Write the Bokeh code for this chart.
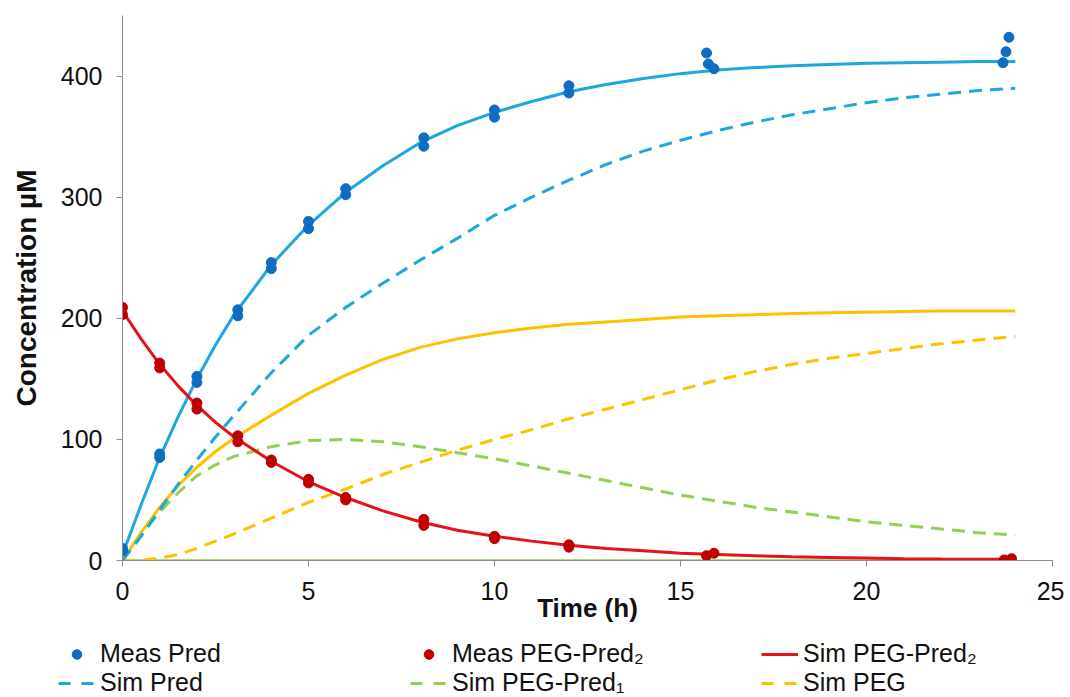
from bokeh.plotting import figure
from bokeh.models import Range1d, FixedTicker, Legend, LegendItem
from bokeh.embed import file_html
from bokeh.resources import INLINE

# ---- measured data ----
meas_pred_t = [0, 0, 1, 1, 2, 2, 3.1, 3.1, 4, 4, 5, 5, 6, 6, 8.1, 8.1, 10, 10, 12, 12,
               15.7, 15.75, 15.9, 23.83, 23.75, 23.67]
meas_pred_y = [8, 10, 85, 88, 147, 152, 202, 207, 241, 246, 274, 280, 302, 307, 342, 349,
               366, 372, 386, 392, 419, 410, 406, 432, 420, 411]

meas_peg2_t = [0, 0, 1, 1, 2, 2, 3.1, 3.1, 4, 4, 5, 5, 6, 6, 8.1, 8.1, 10, 10, 12, 12,
               15.7, 15.9, 23.7, 23.9]
meas_peg2_y = [209, 203, 159, 163, 125, 130, 98, 103, 81, 83, 64, 67, 50, 52, 29, 34,
               18, 20, 11, 13, 4, 6, 0.5, 1.5]

# ---- simulated curves ----
sim_t = [0, 0.5, 1, 1.5, 2, 2.5, 3, 4, 5, 6, 7, 8, 9, 10, 11, 12, 13, 14, 15, 16,
         17, 18, 19, 20, 21, 22, 23, 24]
fit_pred = [5, 46, 85, 119, 150, 178, 203, 244, 277, 304, 326, 345, 359, 370, 379, 387,
            393, 398, 402, 405, 407, 408.5, 409.5, 410.5, 411, 411.5, 412, 412]
sim_pred = [0, 20, 42, 63, 83, 102, 120, 155, 186, 209, 229, 248, 266, 285, 300, 314,
            327, 338, 347, 355, 362, 368, 373, 378, 382, 385, 388, 390]
sim_peg_pred2 = [206, 183, 162, 144, 128, 114, 102, 82, 65, 52, 41, 32, 25, 20, 16, 12.5,
                 10, 8, 6, 5, 4, 3, 2.5, 2, 1.5, 1.2, 1, 1]
fit_peg = [0, 23, 44, 62, 77, 90, 101, 120, 138, 153, 166, 176, 183, 188, 192, 195,
           197, 199, 201, 202, 203, 204, 204.5, 205, 205.5, 206, 206, 206]
sim_peg_pred1 = [0, 21, 40, 56, 70, 79, 86, 94, 99, 100, 98, 94, 89, 84, 78, 72,
                 66, 60, 54, 49, 44, 40, 36, 32, 29, 26, 23, 21]
sim_peg = [0, 0.3, 2, 5, 10, 16, 22, 35, 48, 59, 71, 81, 91, 100, 108, 117,
           125, 133, 141, 149, 156, 162, 167, 171, 175, 179, 182, 185]
zero_t = [0, 24]
zero_y = [0, 0]

x_ticks = [0, 5, 10, 15, 20, 25]
y_ticks = [0, 100, 200, 300, 400]

BLUE_LINE = "#1EA6DF"
BLUE_PT = "#0E6DC0"
RED_LINE = "#E8101A"
RED_PT = "#C00000"
YELLOW = "#FFC000"
GREEN = "#92D050"
FONT = "Liberation Sans"
W = 1064

p = figure(width=W, height=636, output_backend="svg", toolbar_location=None,
           x_range=Range1d(0, 25), y_range=Range1d(0, 450),
           min_border_left=122, min_border_right=12, min_border_top=15, min_border_bottom=76)
p.outline_line_color = None
p.xgrid.grid_line_color = None
p.ygrid.grid_line_color = None

for ax in (p.xaxis[0], p.yaxis[0]):
    ax.axis_line_color = "#8C8C8C"
    ax.major_tick_line_color = "#8C8C8C"
    ax.major_tick_out = 6
    ax.major_tick_in = 0
    ax.minor_tick_line_color = None
    ax.major_label_text_font = FONT
    ax.major_label_text_font_size = "25px"
    ax.major_label_text_color = "#111111"
    ax.axis_label_text_font = FONT
    ax.axis_label_text_font_size = "26px"
    ax.axis_label_text_font_style = "bold"
    ax.axis_label_text_color = "#111111"

p.yaxis.axis_label_text_font_size = "28px"
p.xaxis.ticker = FixedTicker(ticks=x_ticks)
p.yaxis.ticker = FixedTicker(ticks=y_ticks)
p.xaxis.axis_label = "Time (h)"
p.yaxis.axis_label = "Concentration µM"
p.xaxis.major_label_standoff = 15
p.xaxis.axis_label_standoff = -10
p.yaxis.major_label_standoff = 14
p.yaxis.axis_label_standoff = 16

dash = "13 8"
p.line(zero_t, zero_y, line_color=GREEN, line_width=2.5)
p.line(sim_t, fit_peg, line_color=YELLOW, line_width=3)
p.line(sim_t, sim_peg, line_color=YELLOW, line_width=3, line_dash=dash)
p.line(sim_t, sim_peg_pred1, line_color=GREEN, line_width=3, line_dash=dash)
p.line(sim_t, sim_pred, line_color=BLUE_LINE, line_width=3, line_dash=dash)
p.line(sim_t, fit_pred, line_color=BLUE_LINE, line_width=3)
p.line(sim_t, sim_peg_pred2, line_color=RED_LINE, line_width=3)
p.scatter(meas_pred_t, meas_pred_y, size=10, fill_color=BLUE_PT, line_color=BLUE_PT)
p.scatter(meas_peg2_t, meas_peg2_y, size=10, fill_color=RED_PT, line_color=RED_PT)

# ---- legend strip below the chart (its data ranges are out of view; only the legend shows) ----
LH = 60
q = figure(width=W, height=LH, output_backend="svg", toolbar_location=None,
           x_range=Range1d(1000, 1001), y_range=Range1d(1000, 1001),
           x_axis_location=None, y_axis_location=None, min_border=0)
q.outline_line_color = None
q.xgrid.grid_line_color = None
q.ygrid.grid_line_color = None

ldash = "12 11"
g_mp = q.scatter(meas_pred_t, meas_pred_y, size=8, fill_color=BLUE_PT, line_color=BLUE_PT)
g_mpp2 = q.scatter(meas_peg2_t, meas_peg2_y, size=8, fill_color=RED_PT, line_color=RED_PT)
g_pp2 = q.line(sim_t, sim_peg_pred2, line_color=RED_LINE, line_width=3)
g_sp = q.line(sim_t, sim_pred, line_color=BLUE_LINE, line_width=3, line_dash=ldash)
g_pp1 = q.line(sim_t, sim_peg_pred1, line_color=GREEN, line_width=3, line_dash=ldash)
g_peg = q.line(sim_t, sim_peg, line_color=YELLOW, line_width=3, line_dash=ldash)

entries = [
    ("Meas Pred", g_mp, 58, 28),
    ("Sim Pred", g_sp, 58, -1),
    ("Meas PEG-Pred₂", g_mpp2, 410, 28),
    ("Sim PEG-Pred₁", g_pp1, 410, -1),
    ("Sim PEG-Pred₂", g_pp2, 761, 28),
    ("Sim PEG", g_peg, 761, -1),
]
for label, rend, lx, ly in entries:
    lg = Legend(items=[LegendItem(label=label, renderers=[rend])], location=(lx, ly),
                padding=0, margin=0, spacing=0, border_line_alpha=0,
                background_fill_alpha=0, glyph_width=37, glyph_height=24,
                label_standoff=5, label_text_font=FONT, label_text_font_size="25px",
                label_text_color="#111111", label_height=24)
    q.add_layout(lg, "center")

open("out.html", "w").write(file_html([p, q], INLINE))
